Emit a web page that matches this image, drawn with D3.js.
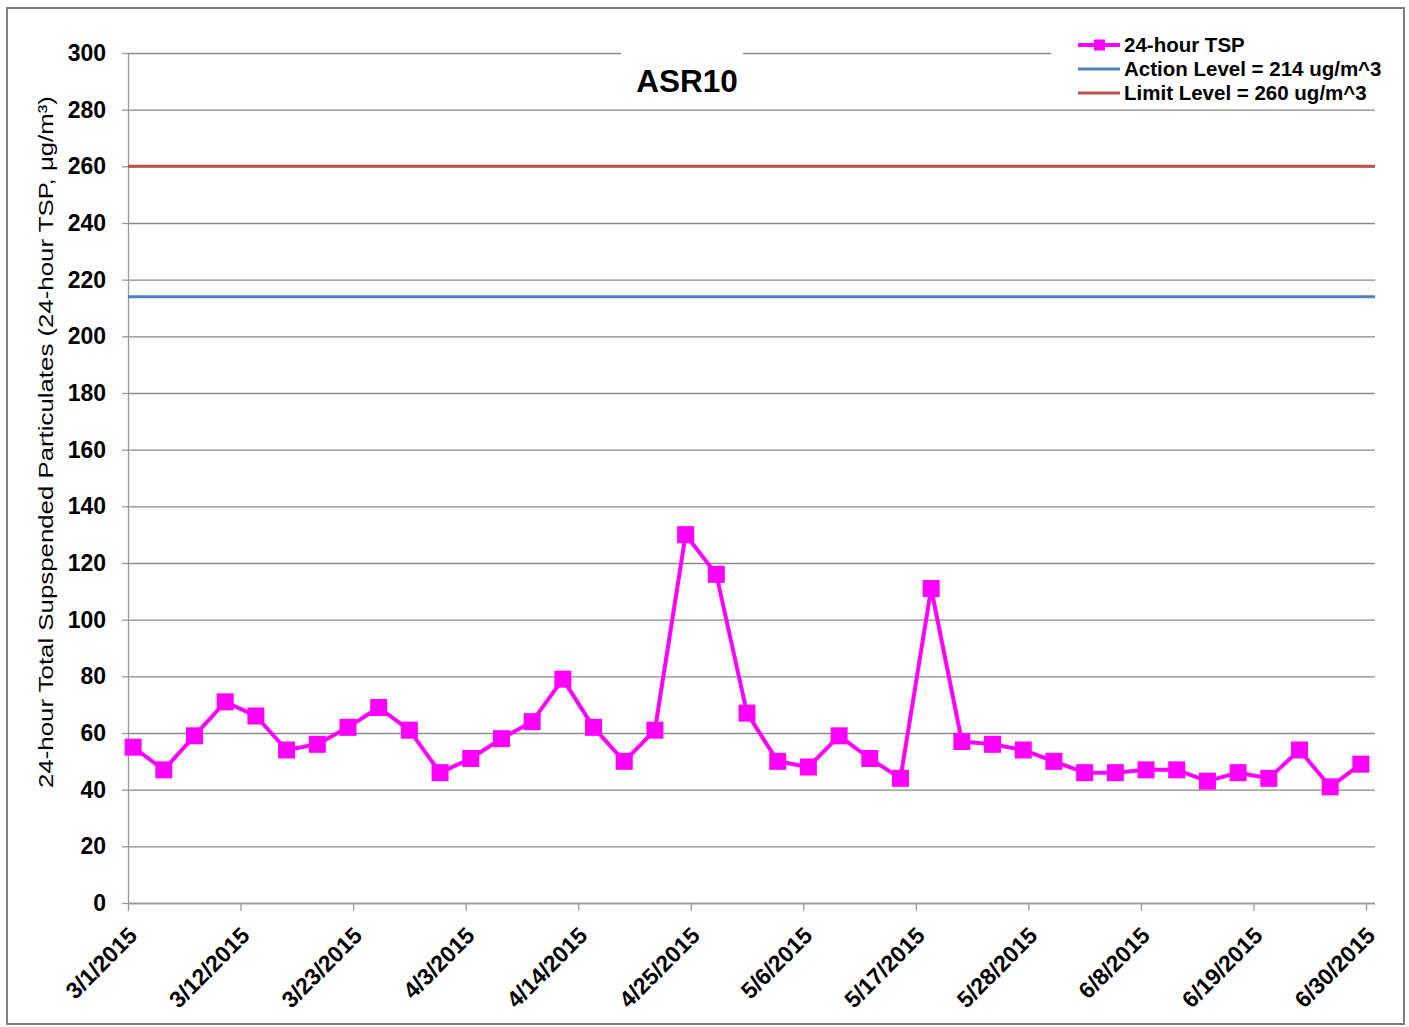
<!DOCTYPE html>
<html>
<head>
<meta charset="utf-8">
<script src="https://cdn.jsdelivr.net/npm/d3@7"></script>
<style>
  body { margin: 0; background: #fff; }
  svg text { font-family: "Liberation Sans", Arial, sans-serif; }
</style>
</head>
<body>
<svg width="1409" height="1027"></svg>
<script>
// sample dates (midday readings) and 24-hour TSP values
const dates = ["3/1/2015 12:00", "3/4/2015 12:00", "3/7/2015 12:00", "3/10/2015 12:00", "3/13/2015 12:00",
  "3/16/2015 12:00", "3/19/2015 12:00", "3/22/2015 12:00", "3/25/2015 12:00", "3/28/2015 12:00",
  "3/31/2015 12:00", "4/3/2015 12:00", "4/6/2015 12:00", "4/9/2015 12:00", "4/12/2015 12:00",
  "4/15/2015 12:00", "4/18/2015 12:00", "4/21/2015 12:00", "4/24/2015 12:00", "4/27/2015 12:00",
  "4/30/2015 12:00", "5/3/2015 12:00", "5/6/2015 12:00", "5/9/2015 12:00", "5/12/2015 12:00",
  "5/15/2015 12:00", "5/18/2015 12:00", "5/21/2015 12:00", "5/24/2015 12:00", "5/27/2015 12:00",
  "5/30/2015 12:00", "6/2/2015 12:00", "6/5/2015 12:00", "6/8/2015 12:00", "6/11/2015 12:00",
  "6/14/2015 12:00", "6/17/2015 12:00", "6/20/2015 12:00", "6/23/2015 12:00", "6/26/2015 12:00",
  "6/29/2015 12:00"];
const tsp = [55, 47, 59, 71, 66, 54, 56, 62, 69, 61,
  46, 51, 58, 64, 79, 62, 50, 61, 130, 116,
  67, 50, 48, 59, 51, 44, 111, 57, 56, 54,
  50, 46, 46, 47, 47, 43, 46, 44, 54, 41,
  49];
const actionLevel = 214;
const limitLevel = 260;
const xTickLabels = ["3/1/2015", "3/12/2015", "3/23/2015", "4/3/2015", "4/14/2015", "4/25/2015",
  "5/6/2015", "5/17/2015", "5/28/2015", "6/8/2015", "6/19/2015", "6/30/2015"];
const yTicks = [0, 20, 40, 60, 80, 100, 120, 140, 160, 180, 200, 220, 240, 260, 280, 300];
const legendLabels = ["24-hour TSP", "Action Level = 214 ug/m^3", "Limit Level = 260 ug/m^3"];

const parseTime = d3.timeParse("%m/%d/%Y %H:%M");
const parseDay = d3.timeParse("%m/%d/%Y");
const data = dates.map((d, i) => ({ date: parseTime(d), value: tsp[i] }));
const xTicks = xTickLabels.map(parseDay);

const svg = d3.select("svg");
const plotLeft = 128, plotRight = 1375, plotTop = 53, plotBottom = 903;
const xEnd = 1366;

const x = d3.scaleTime()
  .domain([xTicks[0], xTicks[xTicks.length - 1]])
  .range([plotLeft, xEnd]);
const y = d3.scaleLinear().domain([0, 300]).range([plotBottom, plotTop]);

// outer frame
svg.append("rect")
  .attr("x", 7).attr("y", 8).attr("width", 1397).attr("height", 1016)
  .attr("fill", "#fff").attr("stroke", "#7f7f7f").attr("stroke-width", 2);

// horizontal grid
svg.append("g")
  .attr("transform", `translate(${plotLeft},0)`)
  .call(d3.axisLeft(y).tickValues(yTicks).tickSize(-(plotRight - plotLeft)).tickFormat(""))
  .call(g => g.select(".domain").remove())
  .call(g => g.selectAll("line").attr("stroke", "#8a8a8a").attr("stroke-width", 1.3));

// y axis
const yAxis = svg.append("g")
  .attr("transform", `translate(${plotLeft},0)`)
  .call(d3.axisLeft(y).tickValues(yTicks).tickSize(6).tickPadding(16).tickSizeOuter(0));
yAxis.select(".domain").attr("stroke", "#999").attr("stroke-width", 1.3);
yAxis.selectAll("line").attr("stroke", "#999").attr("stroke-width", 1.3);
yAxis.selectAll("text")
  .attr("font-size", 23).attr("font-weight", "bold").attr("fill", "#000")
  .style("font-family", "'Liberation Sans', Arial, sans-serif");

// x axis
const xAxis = svg.append("g")
  .attr("transform", `translate(0,${plotBottom})`)
  .call(d3.axisBottom(x).tickValues(xTicks).tickSize(8).tickSizeOuter(0)
    .tickFormat((d, i) => xTickLabels[i]));
xAxis.select(".domain").attr("d", `M${plotLeft},0.5H${plotRight}`)
  .attr("stroke", "#999").attr("stroke-width", 1.3);
xAxis.selectAll("line").attr("stroke", "#999").attr("stroke-width", 1.3);
xAxis.selectAll("text")
  .attr("font-size", 23).attr("font-weight", "bold").attr("fill", "#000")
  .style("font-family", "'Liberation Sans', Arial, sans-serif")
  .attr("text-anchor", "end")
  .attr("dy", 0)
  .attr("transform", "translate(10,34) rotate(-45)")
  .attr("y", 0).attr("x", 0);

// title box and legend box hide the top gridline
svg.append("rect").attr("x", 621).attr("y", 44).attr("width", 122).attr("height", 55).attr("fill", "#fff");
svg.append("rect").attr("x", 1051).attr("y", 30).attr("width", 340).attr("height", 74).attr("fill", "#fff");

// level lines
svg.append("line")
  .attr("x1", plotLeft).attr("x2", plotRight)
  .attr("y1", y(limitLevel)).attr("y2", y(limitLevel))
  .attr("stroke", "#c0504d").attr("stroke-width", 3);
svg.append("line")
  .attr("x1", plotLeft).attr("x2", plotRight)
  .attr("y1", y(actionLevel)).attr("y2", y(actionLevel))
  .attr("stroke", "#4f81bd").attr("stroke-width", 3);

// TSP series
svg.append("path")
  .datum(data)
  .attr("fill", "none")
  .attr("stroke", "#ff00ff")
  .attr("stroke-width", 4)
  .attr("stroke-linejoin", "round")
  .attr("d", d3.line().x(d => x(d.date)).y(d => y(d.value)));

const ms = 17;
svg.selectAll(".pt")
  .data(data)
  .enter()
  .append("rect")
  .attr("x", d => x(d.date) - ms / 2)
  .attr("y", d => y(d.value) - ms / 2)
  .attr("width", ms).attr("height", ms)
  .attr("fill", "#ff00ff");

// title
svg.append("text")
  .attr("x", 687).attr("y", 92)
  .attr("text-anchor", "middle")
  .attr("font-size", 31.5).attr("font-weight", "bold")
  .text("ASR10");

// y axis title
svg.append("text")
  .attr("transform", "translate(53,442) rotate(-90) scale(1.23,1)")
  .attr("text-anchor", "middle")
  .attr("font-size", 21)
  .text("24-hour Total Supspended Particulates (24-hour TSP, μg/m³)");

// legend
const legendColors = ["#ff00ff", "#4f81bd", "#c0504d"];
const legendY = [45, 69, 93];
const legend = svg.append("g");
legendLabels.forEach((label, i) => {
  const ly = legendY[i];
  legend.append("line")
    .attr("x1", 1078).attr("x2", 1120).attr("y1", ly).attr("y2", ly)
    .attr("stroke", legendColors[i]).attr("stroke-width", i === 0 ? 4 : 3);
  if (i === 0) {
    legend.append("rect")
      .attr("x", 1094).attr("y", ly - 5.5).attr("width", 11).attr("height", 11)
      .attr("fill", "#ff00ff");
  }
  legend.append("text")
    .attr("x", 1124).attr("y", ly + 7)
    .attr("font-size", 20.5).attr("font-weight", "bold")
    .text(label);
});
</script>
</body>
</html>
